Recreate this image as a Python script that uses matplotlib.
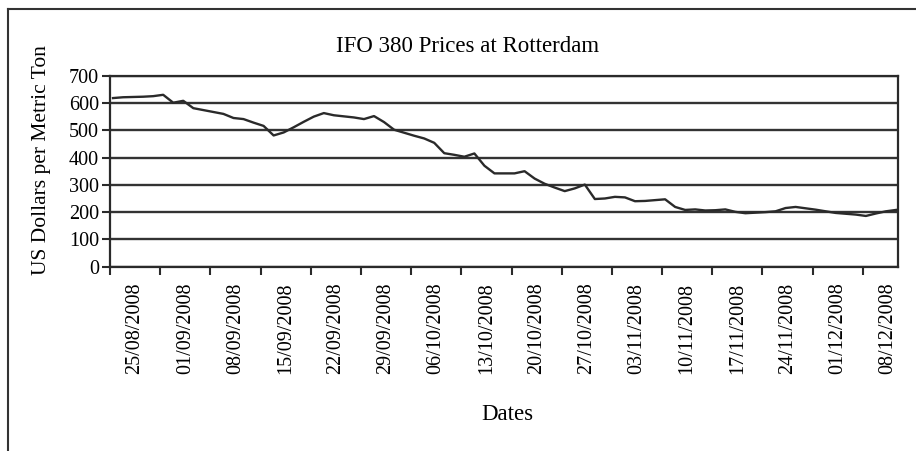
import matplotlib
matplotlib.use("Agg")
import matplotlib.pyplot as plt
import numpy as np
from matplotlib.lines import Line2D

title = "IFO 380 Prices at Rotterdam"
x_title = "Dates"
y_title = "US Dollars per Metric Ton"

week_labels = ["25/08/2008", "01/09/2008", "08/09/2008", "15/09/2008",
               "22/09/2008", "29/09/2008", "06/10/2008", "13/10/2008",
               "20/10/2008", "27/10/2008", "03/11/2008", "10/11/2008",
               "17/11/2008", "24/11/2008", "01/12/2008", "08/12/2008"]

# daily (trading-day) prices, US$ per metric ton
prices = [618, 621, 622, 623, 625, 630, 601, 608, 581, 574,
          567, 560, 545, 541, 528, 516, 481, 492, 511, 531,
          550, 563, 555, 551, 547, 541, 552, 530, 502, 491,
          480, 470, 454, 416, 410, 403, 415, 370, 342, 342,
          342, 350, 323, 304, 290, 277, 287, 301, 248, 250,
          256, 254, 240, 241, 244, 247, 219, 208, 210, 206,
          207, 210, 201, 196, 198, 200, 203, 215, 219, 214,
          209, 203, 197, 194, 191, 186, 195, 203, 208]

y_ticks = [0, 100, 200, 300, 400, 500, 600, 700]
days_per_week = 5

W, H = 916, 451
fig = plt.figure(figsize=(W / 100, H / 100), dpi=100)
fig.patch.set_facecolor("white")

serif = ["Liberation Serif", "DejaVu Serif"]
ink = "#2a2a2a"

ax = fig.add_axes([110 / W, (H - 266.7) / H, (898 - 110) / W, (266.7 - 75.7) / H])
x = np.arange(len(prices)) + 0.3
ax.plot(x, prices, color=ink, lw=1.7, zorder=3)

ax.set_xlim(0, 78.5)
ax.set_ylim(y_ticks[0], y_ticks[-1])
ax.set_yticks(y_ticks)
ax.set_yticklabels([str(v) for v in y_ticks], family=serif, fontsize=14.5)
ax.yaxis.grid(True, color="#333333", lw=1.7)
ax.set_axisbelow(True)

ax.set_xticks(np.arange(0, 78.5, days_per_week))
ax.set_xticklabels([])
ax.set_xticks(np.arange(len(week_labels)) * days_per_week + days_per_week / 2, minor=True)
ax.set_xticklabels(week_labels, minor=True, rotation=90, family=serif, fontsize=14.5)
ax.tick_params(axis="x", which="minor", length=0, pad=11.5)
ax.tick_params(axis="x", which="major", length=6, width=1.5, color=ink, direction="out")
ax.tick_params(axis="y", length=5.5, width=1.5, color=ink, direction="out", pad=2.5)
for s in ax.spines.values():
    s.set_color(ink)
    s.set_linewidth(1.6)

fig.text(468 / W, 1 - 52 / H, title, ha="center", va="baseline", family=serif, fontsize=16.5)
fig.text(507 / W, 1 - 420 / H, x_title, ha="center", va="baseline", family=serif, fontsize=16.5)
fig.text(42 / W, 1 - 160 / H, y_title, ha="center", va="center", rotation=90, family=serif, fontsize=15.5)

fig.add_artist(Line2D([8 / W, 8 / W], [0, 1 - 9 / H], transform=fig.transFigure, color="#333333", lw=1.5))
fig.add_artist(Line2D([8 / W, 1], [1 - 9 / H, 1 - 9 / H], transform=fig.transFigure, color="#333333", lw=1.5))

fig.savefig("out.png", dpi=100)
